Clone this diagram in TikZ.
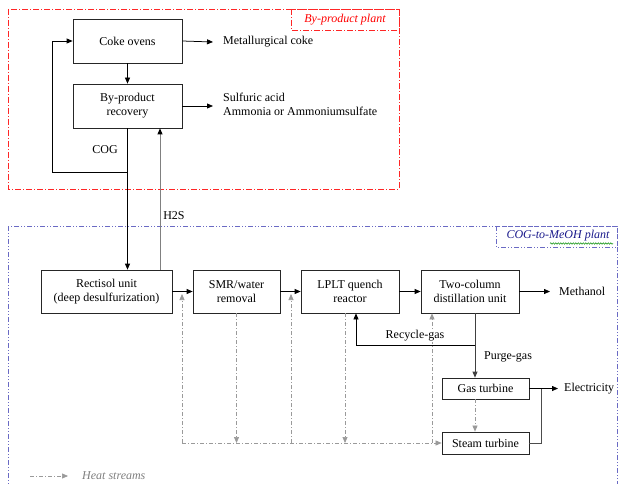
\documentclass[tikz,border=0pt]{standalone}
\usepackage{fontspec}
\setmainfont{Liberation Serif}
\usetikzlibrary{arrows.meta,decorations.pathmorphing}
\definecolor{bluebd}{HTML}{6A6AC4}
\definecolor{navytx}{HTML}{1A1A8C}
\definecolor{heatgray}{HTML}{9A9A9A}
\begin{document}
\begin{tikzpicture}[x=1pt,y=-1pt,
  font=\fontsize{12}{14}\selectfont,
  box/.style={draw=black!85, line width=0.75pt, align=center, inner sep=1pt, fill=white},
  flow/.style={draw=black, line width=0.75pt, -{Triangle[length=6pt,width=5pt]}},
  grayflow/.style={draw=gray, line width=0.75pt, -{Triangle[length=6pt,width=5pt,black]}},
  plain/.style={draw=black!70, line width=0.75pt},
  heat/.style={draw=heatgray, line width=0.7pt, dash pattern=on 4pt off 2pt on 1pt off 2pt, -{Triangle[length=6pt,width=5pt]}},
  redbox/.style={draw=red!85, line width=0.7pt, dash pattern=on 6pt off 2pt on 1pt off 2pt},
  bluebox/.style={draw=bluebd, line width=0.8pt, dash pattern=on 5pt off 2pt on 1pt off 2pt on 1pt off 2pt},
  lbl/.style={inner sep=0pt}
]
\fill[white] (0,0) rectangle (621,484);
\useasboundingbox (0,0) rectangle (621,484);

% plant boundaries
\draw[redbox] (8,9) rectangle (399,189);
\draw[redbox] (291,9) rectangle (399,30);
\node[lbl, text=red, font=\fontsize{12}{14}\selectfont\itshape] (bpl) at (345,19.5) {By-product plant};

\draw[bluebox] (8,226) rectangle (617,500);
\draw[bluebox] (496,226) rectangle (617,247);
\node[lbl, text=navytx, font=\fontsize{12}{14}\selectfont\itshape] (mpl) at (558,236) {COG-to-MeOH plant};
\draw[green!55!black, line width=0.5pt, decorate, decoration={snake, amplitude=0.7pt, segment length=2.5pt}] (550,243.5) -- (613,243.5);

% boxes
\node[box, minimum width=109pt, minimum height=44pt] (coke) at (127.5,41) {Coke ovens};
\node[box, minimum width=109pt, minimum height=44pt] (byp) at (127.5,106) {By-product\\recovery};
\node[box, minimum width=131pt, minimum height=43pt] (rect) at (106.5,291.5) {Rectisol unit\\(deep desulfurization)};
\node[box, minimum width=87pt, minimum height=43pt] (smr) at (236.5,291.5) {SMR/water\\removal};
\node[box, minimum width=98pt, minimum height=43pt] (lplt) at (350,291.5) {LPLT quench\\reactor};
\node[box, minimum width=98pt, minimum height=43pt] (two) at (470,291.5) {Two-column\\distillation unit};
\node[box, minimum width=87pt, minimum height=21pt] (gas) at (485.5,388.5) {Gas turbine};
\node[box, minimum width=87pt, minimum height=22pt] (steam) at (485.5,443) {Steam turbine};

% helper coordinates
\coordinate (mce) at (213,42);
\coordinate (pre) at (213,106);
\coordinate (cj) at (127.5,172);
\coordinate (cl) at (52,172);
\coordinate (hx) at (160,0);
\coordinate (mee) at (550,291.5);
\coordinate (px) at (475,0);
\coordinate (rj) at (475,345);
\coordinate (rx) at (356,0);
\coordinate (ee) at (558,388.5);
\coordinate (ej) at (541,388.5);
\coordinate (h1b) at (182,443);
\coordinate (h1t) at (182,294);
\coordinate (h2b) at (291,443);
\coordinate (h2t) at (291,294);
\coordinate (h3b) at (432,443);
\coordinate (h4b) at (236.5,443);
\coordinate (h5x) at (345,0);
\coordinate (h5b) at (345,443);
\coordinate (lg1) at (30,476);
\coordinate (lg2) at (68,476);

% heat streams (drawn first so labels can cover them)
\draw[heat] (h1b) -- (steam.west);
\draw[heat] (h1b) -- (h1t);
\draw[heat] (h2b) -- (h2t);
\draw[heat] (h3b) -- (two.south -| h3b);
\draw[heat] (smr.south) -- (h4b);
\draw[heat] (lplt.south -| h5x) -- (h5b);
\draw[heat] (gas.south -| px) -- (steam.north -| px);
\draw[heat] (lg1) -- (lg2);

% by-product plant flows
\draw[flow] (coke.east) -- (mce);
\draw[flow] (coke) -- (byp);
\draw[flow] (byp.east) -- (pre);
\draw[flow] (byp.south) -- (byp.south |- rect.north);
\draw[flow] (cj) -- (cl) |- (coke.west);
\draw[grayflow] (rect.north -| hx) -- (byp.south -| hx);

% methanol plant flows
\draw[flow] (rect) -- (smr);
\draw[flow] (smr) -- (lplt);
\draw[flow] (lplt) -- (two);
\draw[flow] (two) -- (mee);
\draw[flow, draw=black!75] (two.south -| px) -- (gas.north -| px);
\draw[flow] (rj) -| (lplt.south -| rx);
\draw[flow] (gas) -- (ee);
\draw[plain] (steam.east) -| (ej);

% text labels
\node[lbl, anchor=west] (mct) at (223,42) {Metallurgical coke};
\node[lbl, anchor=west, align=left] (prod) at (223,104) {Sulfuric acid\\Ammonia or Ammoniumsulfate};
\node[lbl] (cog) at (105,150) {COG};
\node[lbl] (h2s) at (174,216) {H2S};
\node[lbl, anchor=west] (meth) at (559,291) {Methanol};
\node[lbl, fill=white, inner sep=1pt] (rec) at (415,336) {Recycle-gas};
\node[lbl, anchor=west] (pur) at (484,357) {Purge-gas};
\node[lbl, anchor=west] (ele) at (564,389) {Electricity};
\node[lbl, anchor=west, text=gray, font=\fontsize{12}{14}\selectfont\itshape] (leg) at (82,476) {Heat streams};
\end{tikzpicture}
\end{document}
